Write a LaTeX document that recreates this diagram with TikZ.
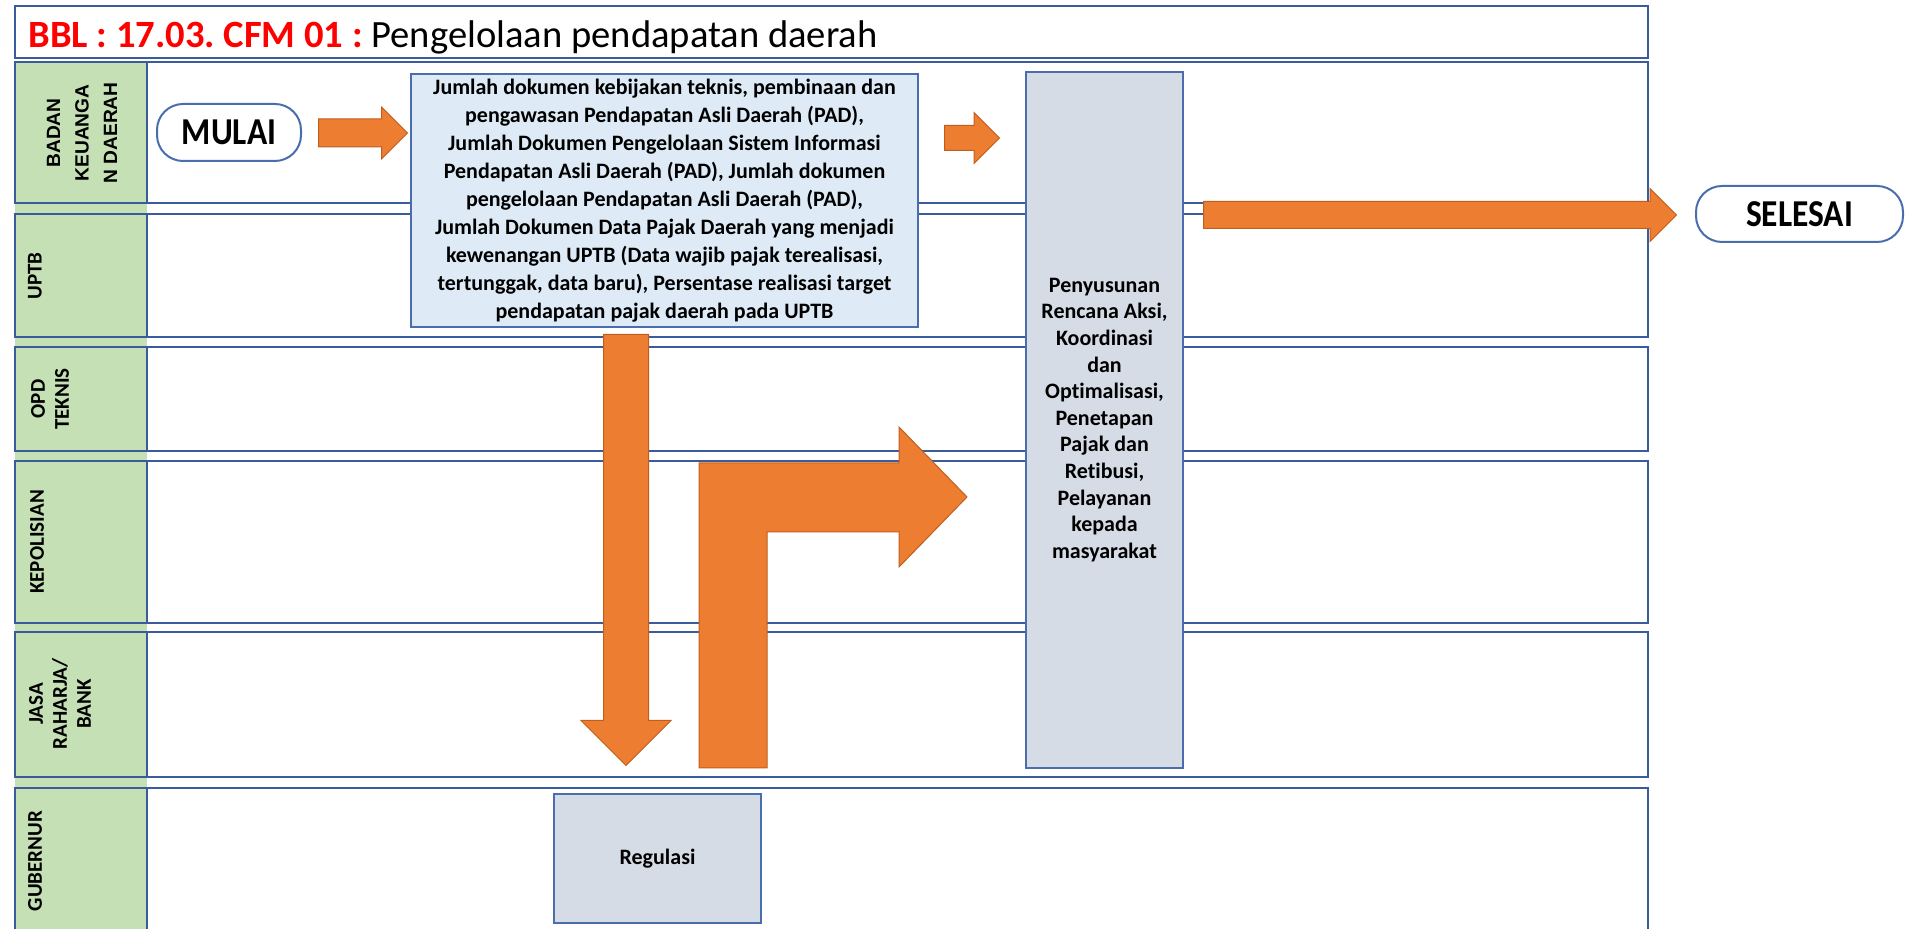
\documentclass[tikz,border=0pt]{standalone}
\usepackage{fontspec}
\setmainfont{Carlito}[Ligatures=NoCommon]
\newfontfamily\arialfont{Liberation Sans}
\newfontfamily\termfont{Carlito}[FakeStretch=0.88]
\usetikzlibrary{shapes.arrows,positioning,calc}
\definecolor{laneblue}{HTML}{3A5C9C}
\definecolor{lanegreen}{HTML}{C5E0B4}
\definecolor{padfill}{HTML}{DEEBF7}
\definecolor{greyfill}{HTML}{D6DCE5}
\definecolor{boxline}{HTML}{4A6DAE}
\definecolor{arroworange}{HTML}{ED7D31}
\definecolor{arrowedge}{HTML}{C25E1C}

\begin{document}
\frenchspacing
\begin{tikzpicture}[x=0.5pt,y=-0.5pt,
	lane/.style={draw=laneblue,line width=1.4pt},
	lanelabel/.style={rotate=90,align=center,inner sep=0pt,font=\bfseries\fontsize{10.5}{12}\selectfont},
	terminal/.style={draw=boxline,line width=1pt,fill=white,rounded corners=13pt,anchor=north west,font=\termfont\bfseries\fontsize{19}{22}\selectfont},
	process/.style={draw=boxline,line width=1pt,anchor=north west,align=center,inner sep=0pt,font=\bfseries\fontsize{11}{14}\selectfont},
	blockarrow/.style={single arrow,fill=arroworange,draw=arrowedge,line width=0.5pt,single arrow tip angle=90,anchor=tail}]

	\useasboundingbox (0,0) rectangle (1907,929);
	\clip (0,0) rectangle (1907,929);

	% title
	\draw[lane] (15,6) rectangle (1648,58);
	\node[anchor=base west,inner sep=0pt,font=\fontsize{19.3}{22}\selectfont] (title) at (28,48) {\textcolor{red}{\bfseries BBL : 17.03. CFM 01 :} Pengelolaan pendapatan daerah};

	% lanes
	\fill[lanegreen] (15,62) rectangle (147,935);
	\foreach \ytop/\ybot in {62/203,214/337,347/451,461/623,632/777,788/960}{
		\draw[lane] (15,\ytop) rectangle (1648,\ybot);
		\draw[lane] (147,\ytop) -- (147,\ybot);
	}
	\node[lanelabel,font=\arialfont\bfseries\fontsize{9.6}{14.2}\selectfont] (bkd) at (82,133) {BADAN\\KEUANGA\\N DAERAH};
	\node[lanelabel] (uptb) at (35,276) {UPTB};
	\node[lanelabel] (opd) at (50,399) {OPD\\TEKNIS};
	\node[lanelabel] (polisi) at (37,542) {KEPOLISIAN};
	\node[lanelabel] (jasa) at (60,704) {JASA\\RAHARJA/\\BANK};
	\node[lanelabel] (gub) at (35,861) {GUBERNUR};

	% steps
	\node[terminal,minimum width=72pt,minimum height=28.5pt] (mulai) at (156,103) {MULAI};
	\node[blockarrow,minimum height=44.5pt,inner sep=6.75pt,single arrow head extend=6pt] (a_1) at (318,133) {};
	\node[process,fill=padfill,minimum width=253.5pt,minimum height=126.5pt] (pad) at (410,73)
		{Jumlah dokumen kebijakan teknis, pembinaan dan\\
		pengawasan Pendapatan Asli Daerah (PAD),\\
		Jumlah Dokumen Pengelolaan Sistem Informasi\\
		Pendapatan Asli Daerah (PAD), Jumlah dokumen\\
		pengelolaan Pendapatan Asli Daerah (PAD),\\
		Jumlah Dokumen Data Pajak Daerah yang menjadi\\
		kewenangan UPTB (Data wajib pajak terealisasi,\\
		tertunggak, data baru), Persentase realisasi target\\
		pendapatan pajak daerah pada UPTB};
	\node[blockarrow,minimum height=27.5pt,inner sep=6pt,single arrow head extend=6.5pt] (a_2) at (944,138) {};
	\node[process,fill=greyfill,minimum width=78.5pt,minimum height=348pt,font=\bfseries\fontsize{11}{13.3}\selectfont] (rencana) at (1025,71)
		{Penyusunan\\Rencana Aksi,\\Koordinasi\\dan\\Optimalisasi,\\Penetapan\\Pajak dan\\Retibusi,\\Pelayanan\\kepada\\masyarakat};
	\node[blockarrow,minimum height=236.5pt,inner sep=6.5pt,single arrow head extend=6.5pt] (a_3) at (1203,215) {};
	\node[terminal,minimum width=103.5pt,minimum height=28pt] (selesai) at (1695,185) {SELESAI};
	\node[blockarrow,shape border rotate=270,minimum height=215.5pt,inner sep=11pt,single arrow head extend=11.25pt] (a_4) at (626,334) {};
	\node[process,fill=greyfill,minimum width=103.5pt,minimum height=64.5pt] (regulasi) at (553,793) {Regulasi};

	% bent arrow back up to the tall box
	\draw[fill=arroworange,draw=arrowedge,line width=0.5pt]
		(699,768) -- (699,463) -- (899,463) -- (899,427) -- (967,497) -- (899,567) -- (899,532) -- (767,532) -- (767,768) -- cycle;
\end{tikzpicture}
\end{document}
